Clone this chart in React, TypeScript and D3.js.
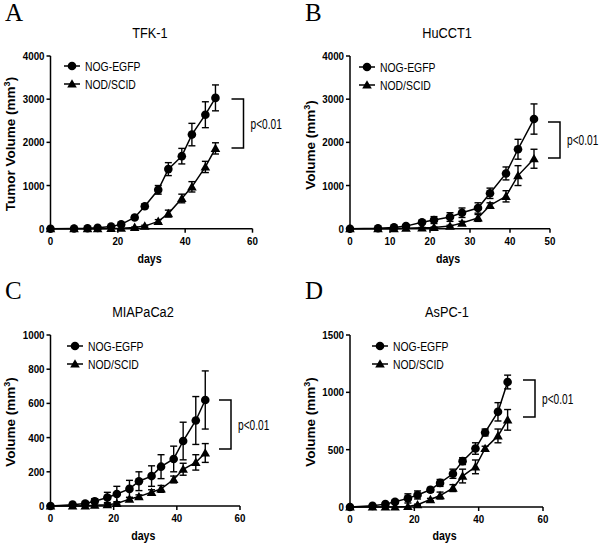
import React from "react";
import * as d3 from "d3";

const daysACD = [0, 7, 11, 14, 18, 21, 25, 28, 32, 35, 39, 42, 46, 49];
const daysB = [0, 7, 11, 14, 18, 21, 25, 28, 32, 35, 39, 42, 46];

const nogA = [0, 5, 10, 20, 50, 100, 260, 520, 900, 1380, 1680, 2180, 2640, 3030];
const nogAErr = [0, 0, 0, 0, 20, 30, 40, 50, 100, 150, 180, 260, 300, 300];
const nodA = [0, 0, 0, 0, 5, 10, 30, 60, 170, 350, 700, 970, 1430, 1860];
const nodAErr = [0, 0, 0, 0, 0, 0, 10, 20, 40, 80, 100, 120, 130, 130];

const nogB = [0, 10, 30, 60, 150, 200, 270, 370, 480, 820, 1280, 1840, 2540];
const nogBErr = [0, 0, 20, 30, 40, 80, 100, 110, 120, 120, 150, 230, 350];
const nodB = [0, 0, 0, 10, 20, 30, 60, 130, 250, 540, 750, 1230, 1620];
const nodBErr = [0, 0, 0, 0, 10, 10, 20, 40, 80, 60, 130, 230, 220];

const nogC = [0, 8, 15, 28, 50, 70, 100, 145, 175, 230, 275, 380, 500, 620];
const nogCErr = [0, 5, 10, 15, 30, 45, 50, 55, 60, 70, 75, 110, 140, 170];
const nodC = [0, 0, 0, 5, 8, 15, 40, 55, 80, 100, 155, 215, 255, 310];
const nodCErr = [0, 0, 0, 0, 5, 5, 10, 10, 15, 20, 20, 35, 45, 55];

const nogD = [0, 10, 25, 45, 75, 105, 150, 210, 290, 400, 510, 650, 830, 1090];
const nogDErr = [0, 5, 10, 15, 40, 35, 20, 30, 40, 30, 50, 30, 80, 60];
const nodD = [0, 0, 0, 0, 5, 20, 65, 100, 165, 270, 350, 510, 620, 760];
const nodDErr = [0, 0, 0, 0, 0, 5, 10, 30, 30, 60, 60, 20, 60, 90];

const titles = ["TFK-1", "HuCCT1", "MIAPaCa2", "AsPC-1"];
const letters = ["A", "B", "C", "D"];
const yLabels = ["Tumor Volume (mm", "Volume (mm", "Volume (mm", "Volume (mm"];
const yMaxes = [4000, 4000, 1000, 1500];
const yTickStep = [1000, 1000, 200, 500];
const xMaxes = [60, 50, 60, 60];
const xTickStep = [20, 10, 20, 20];
const seriesNames = ["NOG-EGFP", "NOD/SCID"];
const pLabel = "p<0.01";

type PanelCfg = {
  x0: number; x1: number; y0: number; y1: number;
  lx: number; ly: number;
  bx: number; byTop: number; byBot: number;
  letterX: number; letterY: number;
  titleX: number; titleY: number;
  yLabX: number; yLabY: number;
  xLabY: number;
};

const layouts: PanelCfg[] = [
  { x0: 50.5, x1: 252.5, y0: 228.7, y1: 56, lx: 72, ly: 66, bx: 243.5, byTop: 99, byBot: 148, letterX: 5, letterY: 21, titleX: 150, titleY: 38, yLabX: 15, yLabY: 144, xLabY: 263 },
  { x0: 350, x1: 550, y0: 228.7, y1: 56, lx: 367, ly: 67, bx: 560, byTop: 122, byBot: 158, letterX: 305, letterY: 21, titleX: 447, titleY: 38, yLabX: 315, yLabY: 145, xLabY: 263 },
  { x0: 50.5, x1: 240, y0: 506, y1: 335, lx: 75, ly: 346, bx: 231, byTop: 400, byBot: 449, letterX: 5, letterY: 299, titleX: 143, titleY: 317, yLabX: 15, yLabY: 422, xLabY: 540 },
  { x0: 350, x1: 543, y0: 507, y1: 335, lx: 380, ly: 346, bx: 535, byTop: 380, byBot: 417, letterX: 305, letterY: 299, titleX: 447, titleY: 317, yLabX: 315, yLabY: 422, xLabY: 540 },
];

const panelData = [
  { days: daysACD, s: [nogA, nodA], e: [nogAErr, nodAErr] },
  { days: daysB, s: [nogB, nodB], e: [nogBErr, nodBErr] },
  { days: daysACD, s: [nogC, nodC], e: [nogCErr, nodCErr] },
  { days: daysACD, s: [nogD, nodD], e: [nogDErr, nodDErr] },
];

const font = "'Liberation Sans', Arial, sans-serif";

function CText({ x, y, sx = 0.8, anchor = "start", size, bold = false, children }: any) {
  return (
    <text transform={`translate(${x},${y}) scale(${sx},1)`} textAnchor={anchor} fontFamily={font} fontWeight={bold ? "bold" : "normal"} fontSize={size}>
      {children}
    </text>
  );
}

function Marker({ kind, x, y }: { kind: number; x: number; y: number }) {
  if (kind === 0) return <circle cx={x} cy={y} r={4.3} fill="#000" />;
  const s = 4.8;
  return <path d={`M${x},${y - s} L${x + s},${y + s * 0.75} L${x - s},${y + s * 0.75} Z`} fill="#000" />;
}

function Panel({ i }: { i: number }) {
  const L = layouts[i];
  const D = panelData[i];
  const x = d3.scaleLinear().domain([0, xMaxes[i]]).range([L.x0, L.x1]);
  const y = d3.scaleLinear().domain([0, yMaxes[i]]).range([L.y0, L.y1]);
  const xt = d3.range(0, xMaxes[i] + 0.001, xTickStep[i]);
  const yt = d3.range(0, yMaxes[i] + 0.001, yTickStep[i]);
  const line = d3.line<number>().x((_, k) => x(D.days[k])).y((v) => y(v));
  return (
    <g>
      <text x={L.letterX} y={L.letterY} fontFamily="'Liberation Serif', serif" fontSize={25}>{letters[i]}</text>
      <CText x={L.titleX} y={L.titleY} anchor="middle" size={15} sx={0.85}>{titles[i]}</CText>
      <line x1={L.x0} x2={L.x0} y1={L.y0} y2={L.y1} stroke="#000" strokeWidth={1.5} />
      <line x1={L.x0} x2={L.x1} y1={L.y0} y2={L.y0} stroke="#000" strokeWidth={1.5} />
      {yt.map((t) => (
        <g key={"y" + t}>
          <line x1={L.x0 - 4} x2={L.x0} y1={y(t)} y2={y(t)} stroke="#000" strokeWidth={1.5} />
          <CText x={L.x0 - 6} y={y(t) + 4} anchor="end" bold size={11.5} sx={0.85}>{t}</CText>
        </g>
      ))}
      {xt.map((t) => (
        <g key={"x" + t}>
          <line x1={x(t)} x2={x(t)} y1={L.y0} y2={L.y0 + 4} stroke="#000" strokeWidth={1.5} />
          <CText x={x(t)} y={L.y0 + 16} anchor="middle" bold size={11.5} sx={0.85}>{t}</CText>
        </g>
      ))}
      <CText x={(L.x0 + L.x1) / 2 - 2} y={L.xLabY} anchor="middle" bold size={12.5} sx={0.85}>days</CText>
      <text transform={`translate(${L.yLabX},${L.yLabY}) rotate(-90)`} textAnchor="middle" fontFamily={font} fontWeight="bold" fontSize={13.5}>
        {yLabels[i]}<tspan fontSize={9} dy={-5}>3</tspan><tspan dy={5}>)</tspan>
      </text>
      {D.s.map((vals, si) => (
        <g key={"s" + si}>
          <path d={line(vals) || ""} fill="none" stroke="#000" strokeWidth={1.5} />
          {vals.map((v, k) => {
            const e = D.e[si][k];
            if (e <= 0) return null;
            const cx = x(D.days[k]);
            return (
              <g key={"e" + k}>
                <line x1={cx} x2={cx} y1={y(v - e)} y2={y(v + e)} stroke="#000" strokeWidth={1.4} />
                <line x1={cx - 3.5} x2={cx + 3.5} y1={y(v + e)} y2={y(v + e)} stroke="#000" strokeWidth={1.4} />
                <line x1={cx - 3.5} x2={cx + 3.5} y1={y(v - e)} y2={y(v - e)} stroke="#000" strokeWidth={1.4} />
              </g>
            );
          })}
          {vals.map((v, k) => (
            <Marker key={"m" + k} kind={si} x={x(D.days[k])} y={y(v)} />
          ))}
        </g>
      ))}
      {seriesNames.map((n, si) => (
        <g key={"l" + si}>
          <line x1={L.lx - 8} x2={L.lx + 8} y1={L.ly + si * 18} y2={L.ly + si * 18} stroke="#000" strokeWidth={1.5} />
          <Marker kind={si} x={L.lx} y={L.ly + si * 18} />
          <CText x={L.lx + 13} y={L.ly + si * 18 + 5} size={13} sx={0.8}>{n}</CText>
        </g>
      ))}
      <path d={`M${L.bx - 12},${L.byTop} H${L.bx} V${L.byBot} H${L.bx - 12}`} fill="none" stroke="#000" strokeWidth={1.5} />
      <CText x={L.bx + 7} y={(L.byTop + L.byBot) / 2 + 5} size={14.5} sx={0.7}>{pLabel}</CText>
    </g>
  );
}

export default function App() {
  return (
    <svg width={600} height={543} style={{ display: "block", position: "absolute", left: 0, top: 0, background: "#fff" }}>
      <rect width={600} height={543} fill="#fff" />
      {[0, 1, 2, 3].map((i) => (
        <Panel key={i} i={i} />
      ))}
    </svg>
  );
}
